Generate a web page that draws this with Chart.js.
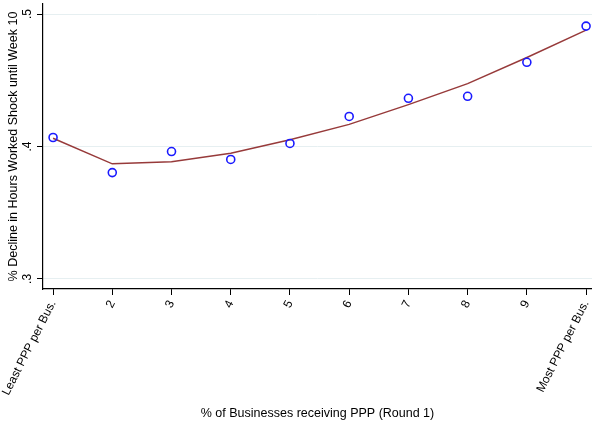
<!DOCTYPE html>
<html>
<head>
<meta charset="utf-8">
<script src="https://cdn.jsdelivr.net/npm/chart.js@4"></script>
<style>
  html, body { margin: 0; padding: 0; background: #fff; }
  #wrap { width: 592px; height: 427px; }
</style>
</head>
<body>
<div id="wrap"><canvas id="myChart"></canvas></div>
<script>
// ================= Data =================
const groups = [1, 2, 3, 4, 5, 6, 7, 8, 9, 10];
const groupLabels = ['Least PPP per Bus.', '2', '3', '4', '5', '6', '7', '8', '9', 'Most PPP per Bus.'];
const binMeans = [0.4068, 0.3803, 0.3962, 0.3902, 0.4023, 0.4227, 0.4364, 0.4379, 0.4636, 0.4909];
const fitValues = [0.4062, 0.3869, 0.3884, 0.3949, 0.4051, 0.4167, 0.4316, 0.4475, 0.4672, 0.4879];
const yTicks = [0.3, 0.4, 0.5];

const font = "'Liberation Sans', Arial, sans-serif";

// ================= Chart =================
const ctx = document.getElementById('myChart');

new Chart(ctx, {
  type: 'scatter',
  data: {
    datasets: [
      {
        label: 'Bin means',
        data: groups.map((g, i) => ({ x: g, y: binMeans[i] })),
        pointStyle: 'circle',
        pointRadius: 4,
        pointBorderWidth: 1.6,
        pointBorderColor: '#1a1aff',
        pointBackgroundColor: 'rgba(0,0,0,0)',
        showLine: false,
        order: 1
      },
      {
        label: 'Fit',
        data: groups.map((g, i) => ({ x: g, y: fitValues[i] })),
        showLine: true,
        borderColor: '#973a3a',
        borderWidth: 1.5,
        pointRadius: 0,
        tension: 0,
        order: 2
      }
    ]
  },
  options: {
    responsive: true,
    maintainAspectRatio: false,
    animation: false,
    layout: {
      autoPadding: false, // no extra room for the markers
      padding: { top: 4, left: 0, right: 0, bottom: 0 }
    },
    plugins: {
      legend: { display: false },
      tooltip: { enabled: false }
    },
    scales: {
      x: {
        type: 'linear',
        min: 0.83,
        max: 10.1,
        afterBuildTicks: axis => {
          axis.ticks = groups.map(v => ({ value: v }));
        },
        afterFit: scale => {
          scale.height = 138;
          scale.paddingLeft = 0;
          scale.paddingRight = 0;
        },
        ticks: {
          autoSkip: false,
          minRotation: 63,
          maxRotation: 63,
          padding: 3,
          color: '#000',
          font: { family: font, size: 12 },
          callback: v => groupLabels[groups.indexOf(v)] || ''
        },
        grid: {
          drawOnChartArea: false,
          tickLength: 6,
          tickColor: '#000',
          tickWidth: 1
        },
        border: { color: '#000', width: 1.2 },
        title: {
          display: true,
          text: '% of Businesses receiving PPP (Round 1)',
          color: '#000',
          font: { family: font, size: 12.5 },
          padding: { top: 0, bottom: 6 }
        }
      },
      y: {
        min: 0.2924,
        max: 0.5076,
        afterBuildTicks: axis => {
          axis.ticks = yTicks.map(v => ({ value: v }));
        },
        afterFit: scale => {
          scale.width = 43;
          scale.paddingTop = 0;
          scale.paddingBottom = 0;
        },
        ticks: {
          minRotation: 90,
          maxRotation: 90,
          crossAlign: 'center',
          padding: 4,
          color: '#000',
          font: { family: font, size: 12 },
          callback: v => String(v.toFixed(1)).replace(/^0/, '')
        },
        grid: {
          color: '#e6eff1',
          lineWidth: 1,
          tickLength: 6,
          tickColor: '#000',
          tickWidth: 1
        },
        border: { color: '#000', width: 1.2 },
        title: {
          display: true,
          text: '% Decline in Hours Worked Shock until Week 10',
          color: '#000',
          font: { family: font, size: 12.5 },
          padding: { top: 6, bottom: 0 }
        }
      }
    }
  }
});
</script>
</body>
</html>
